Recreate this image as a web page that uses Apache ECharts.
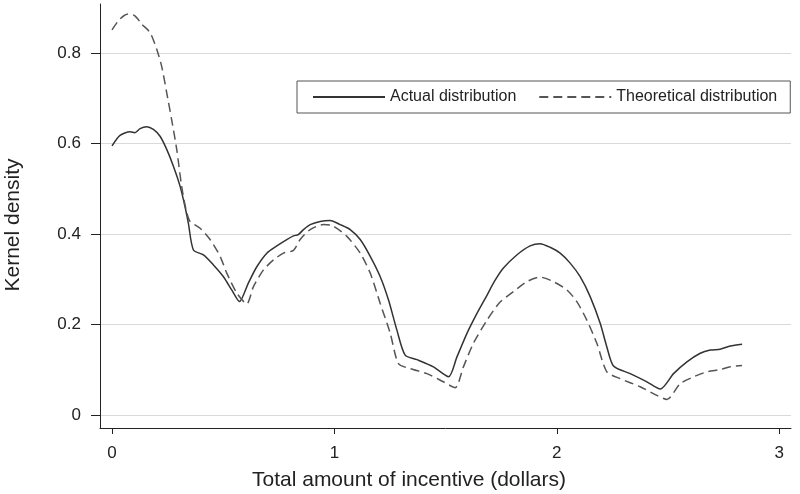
<!DOCTYPE html>
<html>
<head>
<meta charset="utf-8">
<script src="https://cdn.jsdelivr.net/npm/echarts@6/dist/echarts.min.js"></script>
<style>
html,body{margin:0;padding:0;background:#fff;}
#chart{width:800px;height:494px;}
</style>
</head>
<body>
<div id="chart"></div>
<script>
const seriesNames = ['Actual distribution', 'Theoretical distribution'];
const xTicks = [0, 1, 2, 3];
const yTicks = [0, 0.2, 0.4, 0.6, 0.8];

const actualX = [0.000,0.036,0.081,0.103,0.126,0.156,0.186,0.216,0.246,0.276,0.306,0.328,0.343,0.366,0.411,0.456,0.501,0.538,0.573,0.613,0.651,0.696,0.741,0.786,0.816,0.838,0.861,0.891,0.936,0.981,1.026,1.071,1.116,1.161,1.206,1.243,1.281,1.318,1.371,1.445,1.513,1.551,1.596,1.641,1.686,1.720,1.760,1.820,1.880,1.925,1.970,2.015,2.060,2.105,2.150,2.195,2.225,2.255,2.330,2.405,2.465,2.525,2.585,2.645,2.690,2.735,2.780,2.833];
const actualY = [0.595,0.618,0.626,0.624,0.633,0.637,0.631,0.616,0.587,0.550,0.506,0.461,0.425,0.365,0.354,0.332,0.306,0.277,0.251,0.292,0.328,0.358,0.374,0.388,0.396,0.399,0.410,0.421,0.428,0.430,0.421,0.410,0.388,0.351,0.306,0.255,0.188,0.133,0.123,0.107,0.085,0.129,0.181,0.225,0.265,0.296,0.325,0.354,0.374,0.379,0.371,0.358,0.336,0.306,0.262,0.203,0.151,0.109,0.092,0.074,0.058,0.092,0.118,0.137,0.144,0.146,0.153,0.157];

const theoX = [0.000,0.036,0.073,0.103,0.133,0.171,0.201,0.223,0.246,0.268,0.291,0.313,0.333,0.351,0.396,0.441,0.486,0.516,0.561,0.606,0.636,0.681,0.726,0.771,0.816,0.846,0.891,0.951,0.990,1.056,1.116,1.161,1.206,1.251,1.288,1.341,1.416,1.490,1.543,1.580,1.625,1.686,1.745,1.805,1.865,1.925,1.985,2.045,2.090,2.135,2.180,2.225,2.285,2.375,2.450,2.495,2.555,2.615,2.675,2.735,2.780,2.833];
const theoY = [0.851,0.875,0.886,0.882,0.864,0.845,0.808,0.771,0.712,0.653,0.587,0.506,0.454,0.428,0.413,0.388,0.351,0.314,0.270,0.246,0.284,0.321,0.343,0.358,0.364,0.388,0.410,0.421,0.419,0.395,0.358,0.314,0.247,0.181,0.114,0.103,0.092,0.074,0.061,0.107,0.159,0.210,0.250,0.273,0.295,0.305,0.295,0.277,0.251,0.210,0.159,0.096,0.081,0.063,0.044,0.035,0.070,0.085,0.096,0.101,0.107,0.110];

const toPairs = (xs, ys) => xs.map((x, i) => [x, ys[i]]);
const FONT = '"Liberation Sans", Arial, Helvetica, sans-serif';

const chart = echarts.init(document.getElementById('chart'), null, {renderer: 'canvas'});
chart.setOption({
  animation: false,
  backgroundColor: '#ffffff',
  textStyle: {fontFamily: FONT, color: '#222'},
  grid: {left: 100, right: 9, top: 4, bottom: 66, containLabel: false, outerBoundsMode: 'none'},
  legend: {
    left: 297, top: 81,
    orient: 'horizontal',
    padding: [8, 13, 8, 15],
    itemGap: 22,
    itemWidth: 72,
    itemHeight: 14,
    borderColor: '#555',
    borderWidth: 1,
    backgroundColor: '#fff',
    itemStyle: {opacity: 0},
    textStyle: {fontFamily: FONT, fontSize: 16, color: '#222'},
    data: seriesNames
  },
  xAxis: {
    type: 'value',
    min: -0.054, max: 3.053,
    name: 'Total amount of incentive (dollars)',
    nameLocation: 'middle',
    nameGap: 42,
    nameTextStyle: {fontFamily: FONT, fontSize: 21, color: '#222', padding: [0, 73, 0, 0]},
    axisLine: {show: true, onZero: false, lineStyle: {color: '#222', width: 1}},
    axisTick: {show: true, length: 6, lineStyle: {color: '#222'}, customValues: xTicks},
    axisLabel: {fontFamily: FONT, fontSize: 17, color: '#222', margin: 17, customValues: xTicks},
    splitLine: {show: false}
  },
  yAxis: {
    type: 'value',
    min: -0.028, max: 0.908,
    name: 'Kernel density',
    nameLocation: 'middle',
    nameGap: 76,
    nameTextStyle: {fontFamily: FONT, fontSize: 21, color: '#222', padding: [0, 18, 0, 0]},
    axisLine: {show: true, onZero: false, lineStyle: {color: '#222', width: 1}},
    axisTick: {show: true, length: 9, lineStyle: {color: '#222'}, customValues: yTicks},
    axisLabel: {fontFamily: FONT, fontSize: 17, color: '#222', margin: 19, customValues: yTicks},
    splitLine: {show: true, lineStyle: {color: '#d9d9d9', width: 1}}
  },
  series: [
    {
      name: seriesNames[0], type: 'line', data: toPairs(actualX, actualY),
      symbol: 'none', smooth: 0.25,
      lineStyle: {color: '#333', width: 1.5, type: 'solid'},
      itemStyle: {color: '#333'}
    },
    {
      name: seriesNames[1], type: 'line', data: toPairs(theoX, theoY),
      symbol: 'none', smooth: 0.25,
      lineStyle: {color: '#555', width: 1.5, type: [9, 5]},
      itemStyle: {color: '#555'}
    }
  ]
});
</script>
</body>
</html>
